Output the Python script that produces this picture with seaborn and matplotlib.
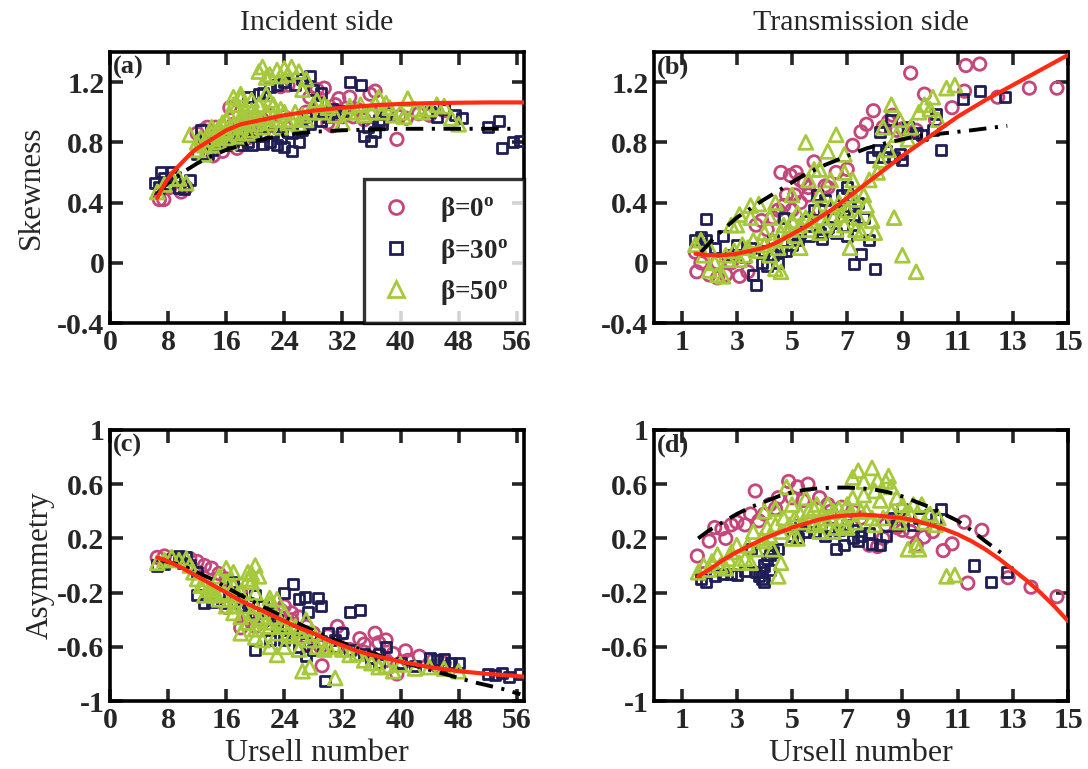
import numpy as np
import pandas as pd
import matplotlib
matplotlib.use("Agg")
import matplotlib.pyplot as plt
import seaborn as sns

# ---------------- data: (Ursell number, value) pairs ----------------
# Panel (a): incident side, skewness
a_b0 = [(6.8,0.42),(7.4,0.42),(9.8,0.47),(10.5,0.5),(12.8,0.88),(13.4,0.9),(14.2,0.71),(15.5,0.74),
        (16.5,1.03),(17.5,0.76),(18.8,0.93),(20,0.85),(21,0.95),(22,0.98),(23.5,1.17),(24.5,1.18),
        (25.5,0.95),(27.5,1.1),(28.5,1.15),(29.5,1.16),(30,0.93),(30.6,0.91),(31.5,1.09),(33,1.1),
        (34,1.02),(35.8,1.12),(36.5,1.14),(38,1.0),(39.5,0.82),(39.8,0.97),(40.8,0.96),(42.5,0.99),
        (44,0.98),(46,1.01),(26,0.88),(23,0.9),(19,0.83),(35,0.95),(37.5,0.94),(32,0.97),
        (12,0.86),(14.5,0.9),(17,0.92),(19.5,0.96),(21.5,0.9),(24,0.97),(27,1.0),(29,1.06),(31,1.05),
        (33.5,0.97),(36,1.0),(8.2,0.5)]
a_b30 = [(6.2,0.53),(6.8,0.5),(7.5,0.56),(8.5,0.6),(9.5,0.5),(10.2,0.49),(11,0.55),(13,0.8),(14,0.75),
         (15,0.78),(16,0.82),(17,0.8),(18,0.78),(19,0.8),(20,0.84),(21,0.79),(22,0.8),(23,0.78),(24,0.77),
         (25,0.74),(26,0.8),(24.5,0.87),(21,1.13),(22,1.17),(24,1.2),(25.5,1.18),(26.5,1.22),(27.5,1.24),
         (28,1.15),(29,1.13),(30,0.97),(31,1.0),(33,1.2),(34.5,1.18),(35,0.84),(36,0.81),(36.5,0.87),
         (37,0.95),(38,0.99),(44,1.0),(45,0.97),(46,1.02),(47.5,0.98),(48.5,0.96),(52,0.9),(53.5,0.94),
         (54,0.76),(55.5,0.8),(56.5,0.81),(20,0.88),(17.5,0.9),(27,0.97),(29.5,1.0),
         (12,0.72),(13.5,0.72),(14.5,0.8),(16,0.78),(17.5,0.82),(18.5,0.86),(19.5,0.78),(21,0.84),
         (22.5,0.86),(23.5,0.83),(25,0.86),(26.5,0.88),(27.5,0.92),(28.5,1.05),(29,0.94),(30.5,1.02),
         (32,1.01),(35.5,0.9),(37.5,0.92),(12.5,0.88),(19,1.1),(20.5,1.12),(23,1.18),(7,0.6),(8,0.52),
         (9,0.57)]
a_b50 = [(6.5,0.47),(7.5,0.52),(8.5,0.56),(9.5,0.56),(10.5,0.53),(11,0.85),(12.5,0.83),(13.5,0.85),
         (14,0.9),(15,0.86),(15.5,0.93),(16,0.95),(17,1.1),(17.5,1.05),(18,1.09),(18.5,0.97),(19,0.98),
         (19.5,1.01),(20,1.0),(20.5,1.27),(21,1.3),(22,1.25),(22.5,1.05),(23,1.28),(24,1.29),(24.5,1.25),
         (25,1.3),(26,1.27),(27,1.22),(21.5,1.12),(22,0.93),(23.5,0.9),(24,1.0),(25,0.95),(26,0.92),
         (27,0.95),(28,1.05),(29,1.0),(30,1.03),(32,0.93),(33,1.0),(34,1.0),(35,0.98),(36,1.0),(37,1.1),
         (38,1.06),(39,0.98),(40,1.0),(41,1.09),(42,1.02),(44,1.02),(46,1.04),(47,0.96),(48,0.92),
         (16.5,0.8),(18,0.84),(19.5,0.88),(14.5,0.78),(12,0.75),(13,0.72),(14,0.82),(15,0.84),(16,0.88),
         (17,0.92),(18,0.9),(19,0.93),(20,0.92),(21,0.96),
         (12,0.8),(13,0.78),(14,0.86),(15,0.8),(15,0.9),(16,0.83),(16.5,0.98),(17,0.86),(18,0.95),
         (18.5,1.02),(19,0.86),(20,0.96),(20.5,1.05),(21,0.9),(21.5,1.0),(22,1.08),(22.5,0.98),(23,0.95),
         (23.5,1.02),(24.5,0.93),(25.5,1.0),(26.5,0.98),(27.5,1.0),(28.5,1.08),(29.5,1.05),(31,0.98),
         (33,1.04),(34.5,1.05),(36.5,1.06),(37.5,1.0),(38.5,1.03),(40.5,0.97),(43,1.0),(45,1.05),
         (18,1.12),(17,1.05),(19.5,1.08),(23.5,1.24),(21.5,1.23),(26.5,1.15)]
a_fit_x = [6.5,7,8,9,10,11,12,14,16,18,20,22,24,28,32,36,40,44,48,52,57]
a_fit_y = [0.43,0.48,0.56,0.62,0.67,0.72,0.76,0.82,0.88,0.92,0.94,0.96,0.98,1.01,1.03,1.045,1.055,1.06,
           1.063,1.065,1.065]
a_ref_x = [6.5,8,10,12,14,16,18,20,24,28,32,40,48,56]
a_ref_y = [0.46,0.53,0.6,0.66,0.71,0.75,0.78,0.81,0.85,0.87,0.88,0.89,0.89,0.89]

# Panel (b): transmission side, skewness
b_b0 = [(1.5,0.07),(1.55,-0.06),(1.7,0.0),(2.0,-0.08),(2.3,-0.1),(2.6,-0.08),(3.1,-0.09),(3.4,-0.06),
        (2.8,0.0),(3.7,0.25),(3.9,0.28),(4.1,0.22),(4.5,0.35),(4.7,0.38),(4.94,0.58),(5.15,0.6),(5.3,0.55),
        (5.45,0.53),(5.3,0.4),(5.6,0.45),(5.8,0.67),(6.2,0.51),(6.0,0.35),(6.6,0.6),(7.2,0.78),(7.5,0.87),
        (7.7,0.92),(7.95,1.01),(8.3,0.9),(8.5,0.94),(8.65,0.98),(9.0,0.89),(9.3,1.26),(9.5,0.88),
        (9.8,1.12),(10.2,0.95),(10.8,1.03),(11.25,1.14),(11.3,1.31),(11.8,1.32),(12.45,1.1),(13.6,1.16),
        (14.6,1.16),(4.3,0.3),(4.8,0.45),(5.1,0.45),(5.6,0.5),(6.3,0.5),(7.0,0.62),(8.8,0.88),(4.6,0.6),
        (2.3,0.0),(5.0,0.35)]
b_b30 = [(1.5,0.15),(1.7,0.17),(1.9,0.15),(1.9,0.29),(2.5,0.18),(2.8,0.05),(3.0,0.12),(3.3,0.04),
         (3.6,-0.08),(3.7,-0.15),(3.9,0.0),(4.1,-0.02),(4.3,0.05),(4.5,0.0),(4.8,0.08),(5.0,0.12),(5.3,0.2),
         (5.6,0.18),(6.0,0.2),(6.3,0.24),(6.5,0.3),(6.8,0.45),(7.0,0.5),(7.2,0.25),(7.25,-0.01),(7.5,0.06),
         (7.8,0.15),(8.0,-0.04),(7.9,0.7),(8.1,0.75),(8.4,0.74),(8.7,0.7),(8.9,0.72),(8.2,0.87),(8.6,0.95),
         (9.2,0.9),(9.5,0.86),(10.4,0.75),(10.2,0.99),(11.2,1.09),(11.8,1.14),(12.7,1.1),(6.2,0.42),
         (5.8,0.35),(7.4,0.4),(2.2,0.1),(3.5,0.1),(4.0,0.08),(4.3,0.15),(4.6,0.08),(5.2,0.15),(5.5,0.28),
         (6.1,0.16),(6.6,0.2),(6.9,0.35),(7.1,0.38),(7.6,0.3),(7.0,0.18),(8.3,0.7),(9.0,0.68),(9.7,0.85),
         (10.1,0.88),(5.9,0.45),(4.7,0.3)]
b_b50 = [(1.5,0.12),(1.8,0.05),(2.0,-0.05),(2.3,-0.08),(2.5,-0.09),(2.7,0.02),(3.0,0.25),(3.2,0.12),
         (3.5,0.38),(3.8,0.39),(4.0,0.2),(4.2,0.3),(4.4,-0.04),(4.6,-0.06),(4.8,0.15),(5.0,0.28),(5.2,0.33),
         (5.5,0.8),(5.8,0.62),(6.0,0.45),(6.2,0.25),(6.3,0.74),(6.5,0.3),(6.6,0.85),(6.8,0.32),(7.0,0.35),
         (6.9,0.6),(7.1,0.1),(7.3,0.42),(7.5,0.2),(7.7,0.38),(7.9,0.28),(8.0,0.2),(8.2,0.68),(8.5,0.75),
         (8.6,1.05),(8.8,0.85),(8.7,0.3),(9.0,0.05),(9.3,0.9),(9.5,-0.06),(9.8,1.05),(10.1,1.1),(10.3,0.95),
         (10.6,1.16),(10.9,1.18),(4.3,0.15),(3.3,0.05),(5.6,0.22),(6.0,0.2),(7.4,0.3),(8.1,0.6),(5.3,0.1),
         (4.7,0.25),(2.2,0.0),(2.6,0.05),(2.9,0.08),(3.1,0.02),(3.4,0.1),(3.6,0.15),(3.8,0.08),(4.0,0.12),
         (4.2,0.05),(4.5,0.1),(4.6,0.2),(4.9,0.22),(5.1,0.18),(5.3,0.25),(5.5,0.3),(5.7,0.28),(5.9,0.35),
         (6.1,0.3),(6.4,0.38),(6.6,0.22),(6.7,0.4),(6.9,0.25),(7.1,0.45),(7.3,0.22),(7.6,0.45),(7.8,0.55),
         (7.2,0.55),(6.4,0.55),(6.9,0.72),(8.3,0.9),(8.9,0.95),(9.6,1.0),(10.0,1.02),(9.2,0.82),(4.4,0.4),
         (5.0,0.45),(5.6,0.55),(6.0,0.62),(3.5,0.3),(3.1,0.32),(2.8,0.25),(2.0,0.1),(1.7,0.15)]
b_fit_x = [1.5,2,2.5,3,3.5,4,4.5,5,5.5,6,6.5,7,7.5,8,9,10,11,12,13,14,15]
b_fit_y = [0.06,0.05,0.05,0.06,0.08,0.1,0.14,0.19,0.24,0.3,0.36,0.43,0.5,0.57,0.71,0.84,0.97,1.08,1.18,
           1.28,1.38]
b_ref_x = [1.7,2.2,3,3.9,4.7,5.4,6.2,7,7.7,8.5,9.5,10.5,11.5,12.8]
b_ref_y = [0.07,0.17,0.3,0.41,0.5,0.58,0.65,0.71,0.76,0.8,0.84,0.86,0.88,0.91]

# Panel (c): incident side, asymmetry
c_b0 = [(6.5,0.06),(7.5,0.07),(9,0.04),(12,0.03),(13,0.0),(14,-0.02),(15,-0.06),(16,-0.1),(17,-0.15),
        (18,-0.2),(16,-0.31),(18,-0.46),(20,-0.45),(22,-0.35),(23.5,-0.33),(24,-0.3),(25,-0.4),(26,-0.38),
        (28,-0.5),(29.2,-0.74),(30,-0.52),(31.3,-0.45),(32,-0.5),(34.4,-0.54),(35,-0.58),(36.5,-0.5),
        (38,-0.55),(39.5,-0.8),(39,-0.65),(40.7,-0.63),(42.6,-0.67),(44.5,-0.7),(46,-0.72),(36,-0.68),
        (27,-0.58),(33,-0.62),(11,0.05),(19,-0.38),(21,-0.42),(25,-0.35),(27,-0.45),(29,-0.6),(35,-0.64),
        (38,-0.7),(41,-0.7),(37,-0.57),(45,-0.74)]
c_b30 = [(6.5,0.0),(7.5,0.01),(8.5,0.05),(9.5,0.07),(10.5,0.06),(10,0.02),(11,0.0),(13,-0.28),
         (14,-0.27),(15,-0.2),(17,-0.22),(18,-0.25),(19,-0.28),(20,-0.22),(21,-0.3),(22,-0.35),(23,-0.4),
         (24,-0.2),(25.2,-0.14),(26,-0.25),(26.8,-0.23),(27.3,-0.34),(28.7,-0.24),(29,-0.3),(20,-0.62),
         (22,-0.55),(24,-0.55),(26,-0.6),(27,-0.67),(28,-0.62),(29.6,-0.85),(30,-0.5),(31,-0.55),(32,-0.5),
         (33,-0.34),(34.4,-0.33),(36,-0.68),(37,-0.65),(38,-0.6),(44,-0.68),(45,-0.7),(46,-0.69),(47,-0.72),
         (48,-0.72),(52,-0.8),(53,-0.81),(54,-0.79),(55,-0.82),(56.5,-0.8),(12,-0.05),(16,-0.28),
         (18,-0.3),(20,-0.35),(21,-0.4),(23,-0.45),(25,-0.48),(27,-0.5),(29,-0.56),(31,-0.6),(33,-0.62),
         (35,-0.65),(37,-0.72),(40,-0.72),(42,-0.74),(46,-0.74),(17,-0.12),(12,-0.22)]
c_b50 = [(6.5,0.02),(7.5,0.04),(8.5,0.06),(9.5,0.04),(10.5,0.05),(11,0.0),(12,-0.1),(13,-0.14),
         (14,-0.16),(15,-0.08),(16,-0.02),(17,-0.05),(18,-0.2),(19,-0.1),(19.5,-0.06),(20,0.0),(20,-0.3),
         (21,-0.38),(22,-0.45),(23,-0.25),(23,-0.5),(24,-0.45),(25,-0.52),(26,-0.48),(27,-0.4),(28,-0.5),
         (29,-0.55),(30,-0.6),(21,-0.55),(23,-0.66),(26.5,-0.78),(27.5,-0.75),(31,-0.83),(15,-0.25),
         (16,-0.3),(17,-0.35),(18,-0.38),(19,-0.42),(20,-0.47),(14,-0.2),(13,-0.22),(32,-0.62),(34,-0.65),
         (36,-0.72),(38,-0.74),(40,-0.73),(42,-0.76),(44,-0.75),(46,-0.76),(48,-0.78),(22,-0.28),
         (24,-0.35),(20.5,-0.08),(11.5,-0.05),(12.5,-0.15),(13.5,-0.18),(14.5,-0.22),(15.5,-0.2),
         (16.5,-0.25),(17,-0.3),(17.5,-0.22),(18.5,-0.3),(19.5,-0.35),(20.5,-0.4),(21.5,-0.42),
         (22.5,-0.38),(23.5,-0.42),(24.5,-0.5),(25.5,-0.45),(26.5,-0.52),(27.5,-0.55),(28.5,-0.6),
         (29.5,-0.62),(31,-0.6),(33,-0.66),(35,-0.7),(37,-0.75),(39,-0.78),(19,-0.05),(19.5,-0.12),
         (20,-0.2),(22,-0.24),(18,-0.5),(20,-0.53),(22,-0.6),(24,-0.6),(26,-0.62),(16,-0.12),(17,-0.15)]
c_fit_x = [6.5,8,10,12,14,16,18,20,22,24,26,28,30,32,34,36,40,44,48,52,57]
c_fit_y = [0.06,0.03,-0.02,-0.08,-0.14,-0.2,-0.26,-0.31,-0.36,-0.41,-0.46,-0.5,-0.55,-0.59,-0.63,-0.66,
           -0.71,-0.75,-0.78,-0.8,-0.82]
c_ref_x = [7,10,14,18,22,26,30,34,38,42,46,50,54,56.5]
c_ref_y = [0.04,0.0,-0.1,-0.22,-0.33,-0.43,-0.53,-0.61,-0.68,-0.74,-0.8,-0.86,-0.91,-0.95]

# Panel (d): transmission side, asymmetry
d_b0 = [(1.57,0.07),(1.8,-0.06),(2.0,0.18),(2.2,0.28),(2.46,0.27),(2.8,0.3),(3.0,0.32),(3.3,0.3),
        (3.67,0.55),(3.8,0.33),(4.0,0.38),(4.2,0.45),(4.5,0.5),(4.88,0.62),(5.2,0.58),(5.58,0.6),(6.0,0.5),
        (6.3,0.45),(6.8,0.43),(7.2,0.4),(7.8,0.15),(8.1,0.14),(8.3,0.2),(8.8,0.28),(9.0,0.26),(9.5,0.15),
        (9.78,0.21),(10.48,0.11),(10.8,0.16),(11.24,0.32),(11.37,-0.13),(11.88,0.26),(12.83,-0.09),
        (13.66,-0.16),(14.6,-0.23),(2.6,0.2),(3.5,0.38),(4.4,0.42),(5.0,0.5),(5.4,0.48),(6.4,0.4),
        (7.5,0.35),(8.4,0.3),(9.3,0.25),(10.1,0.25)]
d_b30 = [(1.7,-0.1),(1.9,-0.12),(2.5,-0.06),(3.0,-0.07),(3.3,-0.04),(3.5,0.12),(3.7,-0.05),(3.8,-0.08),
         (3.9,-0.1),(4.0,0.0),(4.1,0.05),(4.2,-0.03),(4.3,0.1),(4.5,0.12),(5.0,0.22),(5.5,0.25),(6.0,0.3),
         (6.2,0.22),(6.6,0.12),(6.9,0.15),(7.2,0.2),(7.5,0.22),(7.8,0.24),(8.2,0.15),(8.6,0.35),(9.0,0.42),
         (9.4,0.3),(10.0,0.37),(10.4,0.42),(11.6,0.0),(12.2,-0.12),(12.8,-0.05),(7.0,0.3),(5.3,0.3),
         (4.0,-0.12),(3.9,-0.05),(4.2,0.08),(5.2,0.2),(5.8,0.25),(6.4,0.28),(6.7,0.26),(7.2,0.26),
         (7.4,0.18),(7.9,0.16),(8.4,0.22),(8.8,0.3),(9.6,0.35),(10.2,0.34),(2.2,-0.08),(2.8,-0.06)]
d_b50 = [(1.6,-0.05),(1.8,0.0),(2.1,0.03),(2.4,0.0),(2.6,-0.02),(2.8,0.1),(3.0,0.15),(3.3,0.05),
         (3.5,0.02),(3.9,0.2),(4.1,0.28),(4.3,0.12),(4.5,-0.08),(4.6,0.02),(4.7,0.35),(4.8,0.58),(5.0,0.45),
         (5.3,0.38),(5.5,0.5),(5.8,0.42),(6.0,0.32),(6.3,0.45),(6.5,0.4),(6.8,0.35),(7.0,0.28),(7.2,0.65),
         (7.4,0.7),(7.6,0.62),(7.9,0.72),(8.0,0.55),(8.2,0.48),(8.4,0.62),(8.6,0.58),(8.8,0.5),(9.0,0.45),
         (9.3,0.38),(9.5,0.15),(9.7,0.45),(10.0,0.38),(10.3,0.35),(10.6,-0.08),(10.9,-0.07),(5.8,0.3),
         (6.5,0.25),(7.5,0.4),(8.0,0.3),(3.6,0.25),(4.0,0.4),(5.2,0.2),(6.2,0.35),(2.0,-0.03),(2.3,0.08),
         (2.7,0.05),(3.1,0.02),(3.4,0.15),(3.7,0.12),(4.0,0.18),(4.2,0.22),(4.4,0.3),(4.6,0.25),(4.9,0.3),
         (5.1,0.35),(5.4,0.32),(5.6,0.4),(5.9,0.45),(6.1,0.38),(6.4,0.35),(6.7,0.42),(6.9,0.3),(7.1,0.38),
         (7.3,0.32),(7.7,0.4),(7.9,0.35),(8.3,0.35),(8.6,0.4),(8.9,0.32),(9.1,0.38),(9.4,0.45),(9.8,0.32),
         (10.2,0.3),(6.0,0.25),(6.6,0.28),(7.0,0.45),(7.2,0.5),(7.6,0.52),(8.1,0.63),(8.5,0.66),(4.4,0.42),
         (5.0,0.2),(9.6,0.12),(9.2,0.12)]
d_fit_x = [1.6,2,2.5,3,3.5,4,4.5,5,5.5,6,6.5,7,7.5,8,8.5,9,9.5,10,10.5,11,11.5,12,12.5,13,13.5,14,14.5,15]
d_fit_y = [-0.08,-0.03,0.04,0.1,0.15,0.2,0.24,0.28,0.31,0.34,0.36,0.37,0.375,0.37,0.36,0.35,0.33,0.3,
           0.27,0.23,0.18,0.12,0.05,-0.03,-0.11,-0.2,-0.3,-0.41]
d_ref_x = [1.6,2,2.5,3,3.5,4,4.5,5,5.5,6,6.5,7,7.5,8,8.5,9,9.5,10,10.5,11,11.5,12,12.6]
d_ref_y = [0.2,0.26,0.32,0.38,0.43,0.47,0.51,0.54,0.56,0.57,0.575,0.575,0.57,0.56,0.54,0.51,0.47,0.43,
           0.38,0.33,0.26,0.18,0.09]

series_labels = [r"$\mathbf{\beta}$=0$^{\mathbf{o}}$", r"$\mathbf{\beta}$=30$^{\mathbf{o}}$",
                 r"$\mathbf{\beta}$=50$^{\mathbf{o}}$"]
panel_tags = ["(a)", "(b)", "(c)", "(d)"]
col_titles = ["Incident side", "Transmission side"]
row_ylabels = ["Skewness", "Asymmetry"]
xlabel_text = "Ursell number"

# ---------------- styling ----------------
sns.set_style("ticks")
plt.rcParams["font.family"] = ["Liberation Serif", "DejaVu Serif"]
plt.rcParams["mathtext.fontset"] = "custom"
plt.rcParams["mathtext.rm"] = "Liberation Serif"
plt.rcParams["mathtext.bf"] = "Liberation Serif:bold"
plt.rcParams["mathtext.it"] = "Liberation Serif:italic"

COL_B0 = "#c4467a"
COL_B30 = "#1f1d55"
COL_B50 = "#a6c93c"
COL_FIT = "#ff2b12"
markers = ["o", "s", "^"]
colors = [COL_B0, COL_B30, COL_B50]
msizes = [80, 52, 100]

fig = plt.figure(figsize=(10.88, 7.69), dpi=100)
W, H = 1088.0, 769.0
boxes = {
    "a": (110, 52, 524, 323),
    "b": (654, 52, 1068, 323),
    "c": (110, 430, 524, 701),
    "d": (654, 430, 1068, 701),
}
axes = {}
for k, (l, t, r, b) in boxes.items():
    axes[k] = fig.add_axes([l / W, 1 - b / H, (r - l) / W, (b - t) / H])

panels = [
    ("a", [a_b0, a_b30, a_b50], (a_fit_x, a_fit_y), (a_ref_x, a_ref_y)),
    ("b", [b_b0, b_b30, b_b50], (b_fit_x, b_fit_y), (b_ref_x, b_ref_y)),
    ("c", [c_b0, c_b30, c_b50], (c_fit_x, c_fit_y), (c_ref_x, c_ref_y)),
    ("d", [d_b0, d_b30, d_b50], (d_fit_x, d_fit_y), (d_ref_x, d_ref_y)),
]

for idx, (key, groups, fit, ref) in enumerate(panels):
    ax = axes[key]
    for g, pts, mk, c, s, lab in zip(range(3), groups, markers, colors, msizes, series_labels):
        df = pd.DataFrame(pts, columns=["U", "v"])
        sns.scatterplot(data=df, x="U", y="v", ax=ax, marker=mk, s=s, color=c,
                        label=lab, legend=False, zorder=2 + g)
        coll = ax.collections[-1]
        coll.set_facecolor("none")
        coll.set_edgecolor(c)
        coll.set_linewidth(2.0)
    sns.lineplot(x=ref[0], y=ref[1], ax=ax, color="black", lw=2.8, sort=False,
                 estimator=None, zorder=6, legend=False)
    ax.lines[-1].set_dashes([4.5, 2.2, 0.8, 2.2])
    sns.lineplot(x=fit[0], y=fit[1], ax=ax, color=COL_FIT, lw=3.0, sort=False,
                 estimator=None, zorder=7, legend=False)

    if key in ("a", "c"):
        ax.set_xlim(0, 57)
        ax.set_xticks([0, 8, 16, 24, 32, 40, 48, 56])
    else:
        ax.set_xlim(0, 15)
        ax.set_xticks([1, 3, 5, 7, 9, 11, 13, 15])
    if key in ("a", "b"):
        ax.set_ylim(-0.4, 1.4)
        ax.set_yticks([-0.4, 0, 0.4, 0.8, 1.2])
        ax.set_yticklabels(["-0.4", "0", "0.4", "0.8", "1.2"])
    else:
        ax.set_ylim(-1, 1)
        ax.set_yticks([-1, -0.6, -0.2, 0.2, 0.6, 1])
        ax.set_yticklabels(["-1", "-0.6", "-0.2", "0.2", "0.6", "1"])

    ax.tick_params(direction="in", length=9, width=2.6, top=True, right=True,
                   labelsize=21.5, pad=4)
    for lbl in ax.get_xticklabels() + ax.get_yticklabels():
        lbl.set_fontweight("bold")
    for sp in ax.spines.values():
        sp.set_linewidth(2.6)
        sp.set_color("black")
    ax.set_xlabel("")
    ax.set_ylabel("")
    ax.text(0.008, 0.985, panel_tags[idx], transform=ax.transAxes, ha="left", va="top",
            fontsize=19, fontweight="bold", zorder=10)

axes["a"].set_title(col_titles[0], fontsize=21.5, pad=16)
axes["b"].set_title(col_titles[1], fontsize=21.5, pad=16)
axes["a"].set_ylabel(row_ylabels[0], fontsize=22.5, labelpad=8)
axes["c"].set_ylabel(row_ylabels[1], fontsize=22.5, labelpad=2)
axes["c"].set_xlabel(xlabel_text, fontsize=23, labelpad=4)
axes["d"].set_xlabel(xlabel_text, fontsize=23, labelpad=4)

handles = [plt.Line2D([], [], ls="none", marker=m, mfc="none", mec=c, mew=2.0, ms=ms)
           for m, c, ms in zip(markers, colors, [10, 8, 11])]
leg = axes["a"].legend(handles, series_labels, loc="lower right",
                       prop={"size": 19.5, "weight": "bold"},
                       frameon=True, fancybox=False, borderaxespad=0, handlelength=1.2,
                       handletextpad=1.0, labelspacing=0.45, borderpad=0.6)
leg.get_frame().set_edgecolor("black")
leg.get_frame().set_linewidth(2.4)
leg.set_zorder(20)

fig.savefig("out.png", dpi=100, facecolor="white")
